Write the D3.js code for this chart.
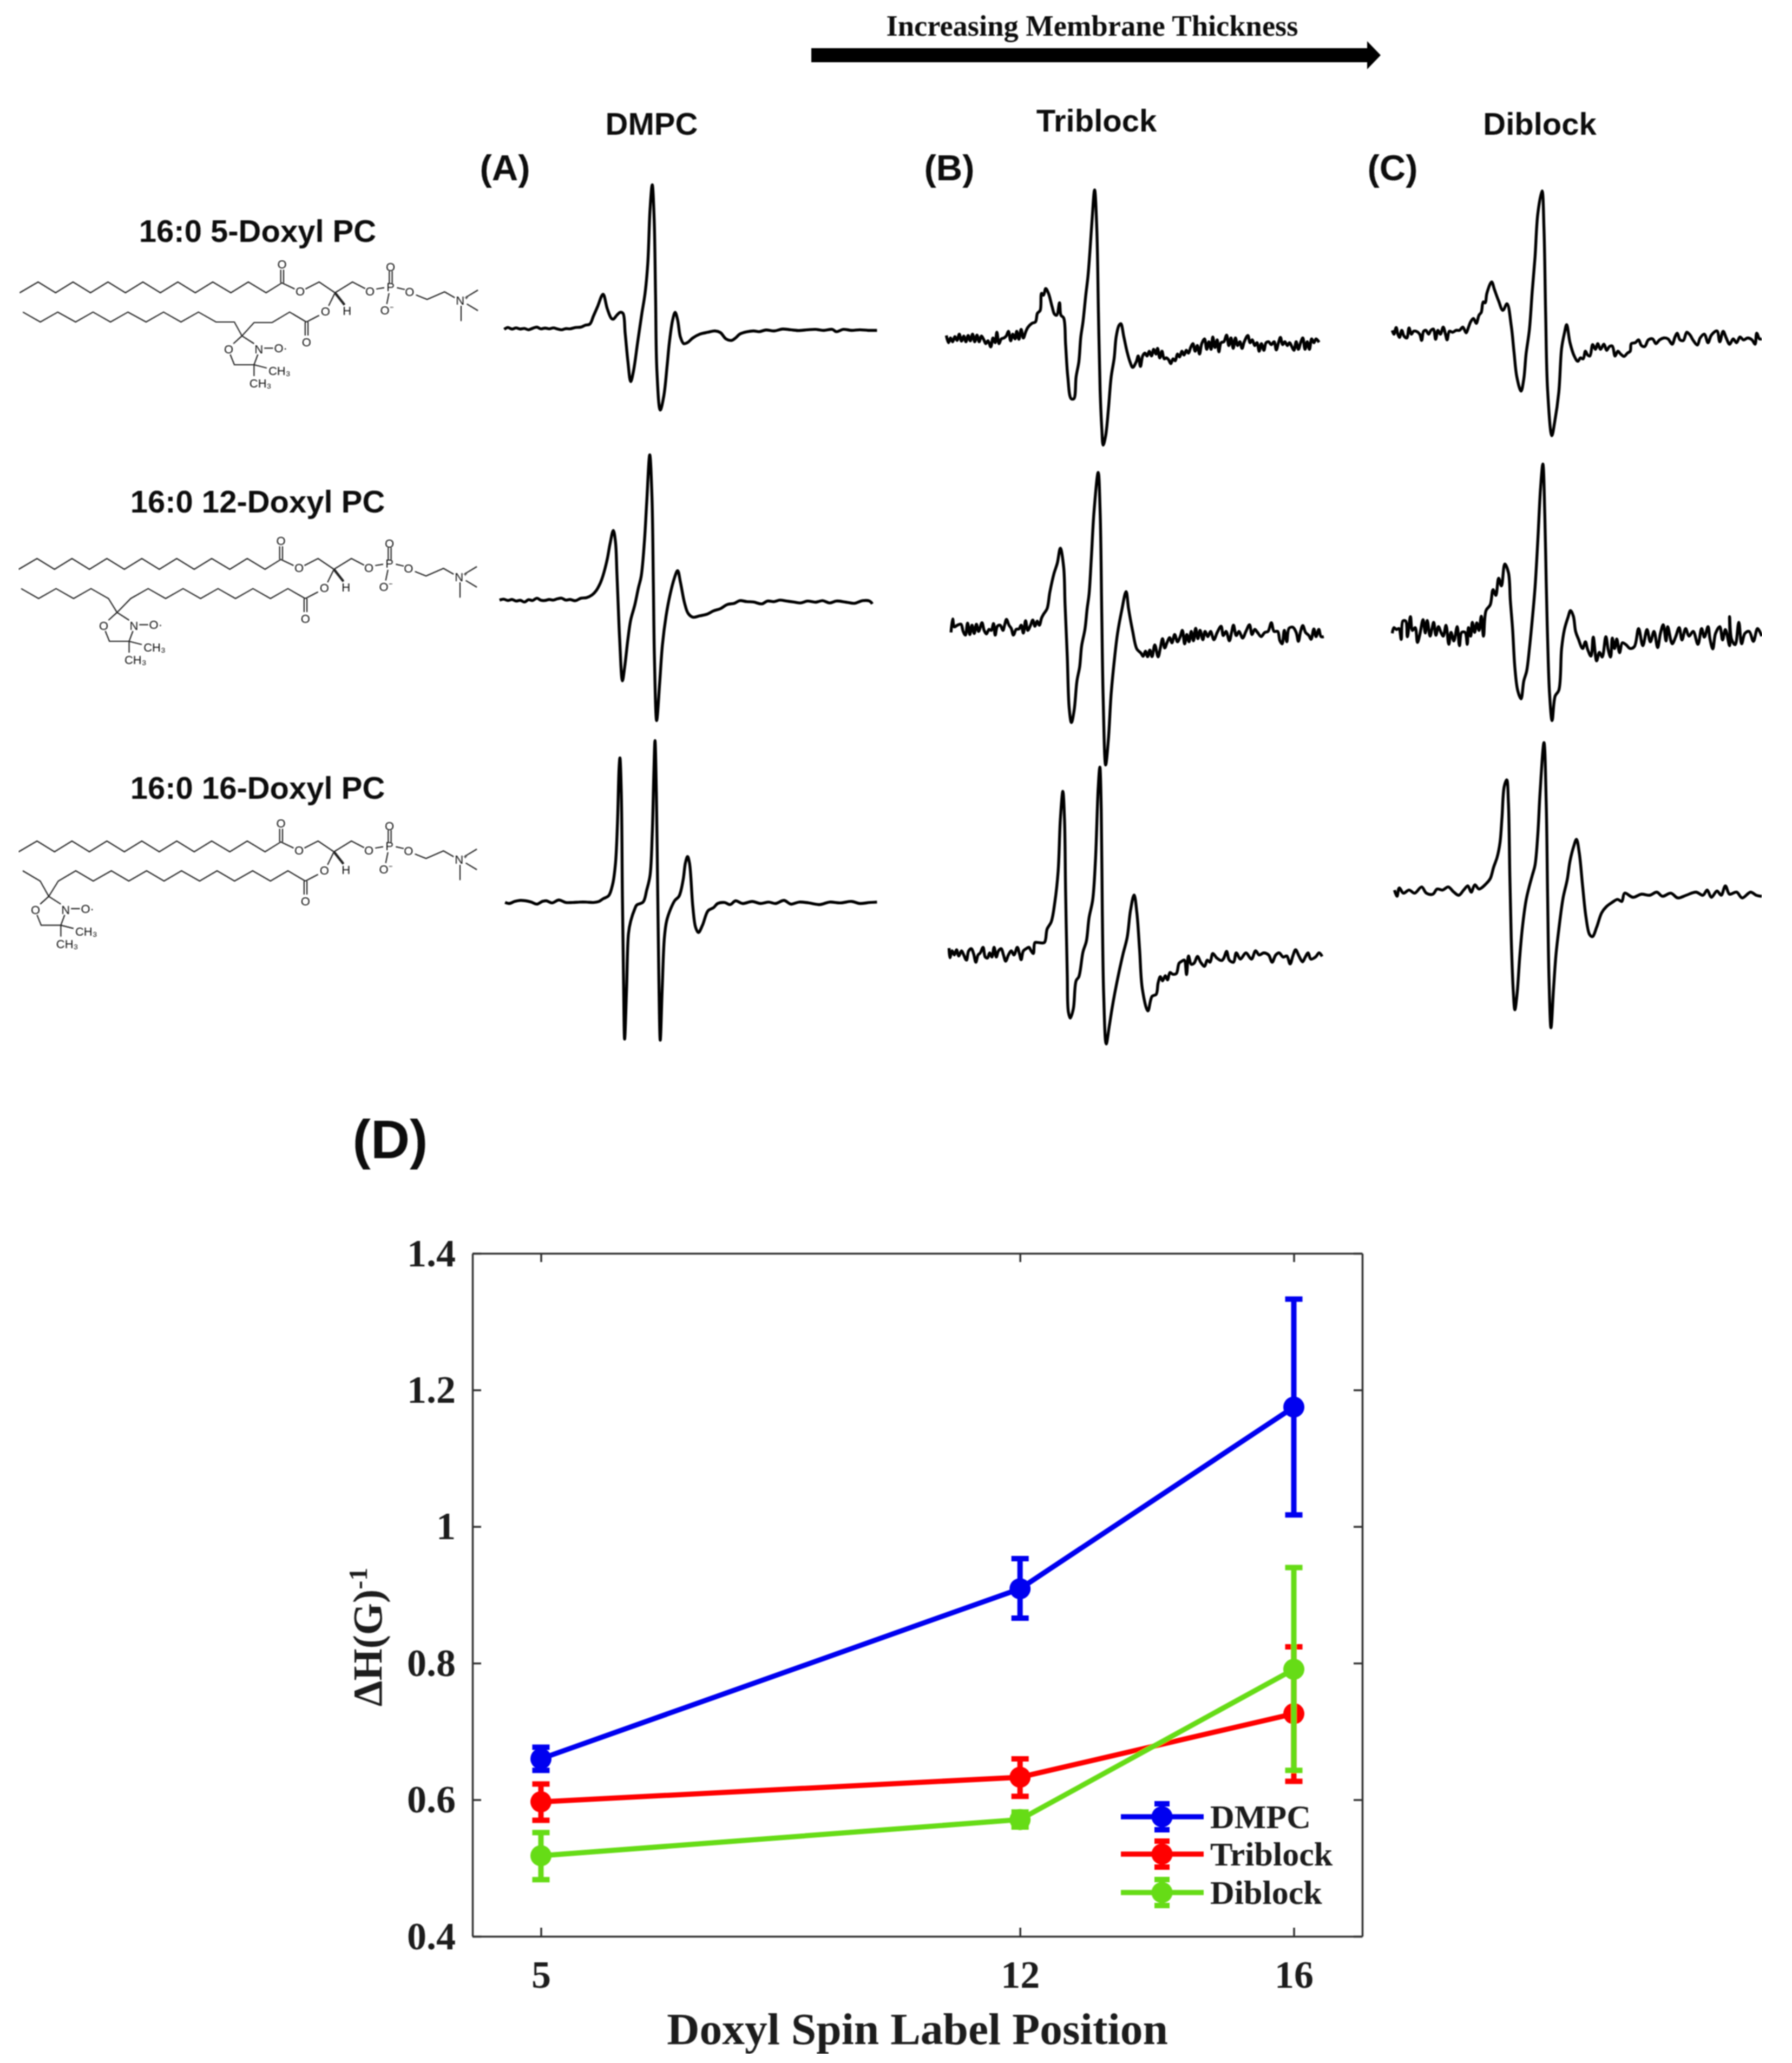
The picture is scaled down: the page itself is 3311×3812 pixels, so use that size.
<!DOCTYPE html>
<html><head><meta charset="utf-8">
<script src="https://cdn.jsdelivr.net/npm/d3@7"></script>
<style>html,body{margin:0;padding:0;background:#fff}svg{display:block}</style>
</head><body><svg id="chart" width="3311" height="3812"></svg>
<script>
// ---------- Panel D data ----------
const positions = [5, 12, 16];
const yTicks = [0.4, 0.6, 0.8, 1, 1.2, 1.4];
const seriesNames = ["DMPC", "Triblock", "Diblock"];
const seriesColors = ["#0000f0", "#ff0000", "#66dc12"];
const dmpcValues = [0.66, 0.909, 1.175];
const dmpcLow = [0.643, 0.866, 1.017];
const dmpcHigh = [0.677, 0.953, 1.333];
const triblockValues = [0.597, 0.633, 0.726];
const triblockLow = [0.57, 0.605, 0.627];
const triblockHigh = [0.623, 0.66, 0.824];
const diblockValues = [0.518, 0.571, 0.791];
const diblockLow = [0.483, 0.56, 0.643];
const diblockHigh = [0.552, 0.582, 0.94];

// ---------- EPR spectra: [field reading, signal reading] ----------
const traceA5 = [[62,880],[75,870],[90,878],[105,872],[120,878],[135,875],[150,882],[165,874],[180,868],[195,877],[210,873],[225,877],[240,872],[255,878],[270,882],[285,876],[300,877],[320,870],[340,868],[355,858],[372,852],[385,810],[400,760],[420,695],[435,770],[450,822],[457,826],[470,805],[482,790],[492,795],[500,900],[510,1050],[520,1155],[530,1100],[545,950],[560,800],[572,690],[582,530],[590,250],[598,118],[605,300],[610,700],[615,1100],[627,1305],[640,1230],[652,1070],[660,950],[672,830],[681,790],[690,830],[700,920],[712,955],[725,950],[745,925],[770,905],[800,895],[825,888],[845,897],[865,930],[885,938],[900,925],[915,905],[940,893],[965,888],[985,892],[1010,883],[1040,888],[1070,878],[1100,882],[1130,886],[1160,882],[1190,880],[1220,885],[1250,880],[1265,892],[1290,880],[1320,885],[1350,882],[1380,885],[1412,885]];
const traceA12 = [[45,795],[60,790],[75,797],[90,792],[105,800],[120,796],[135,805],[150,793],[165,797],[180,785],[195,796],[210,797],[225,792],[240,795],[255,788],[270,785],[285,795],[300,792],[320,798],[340,785],[360,782],[380,768],[395,745],[410,705],[420,665],[435,580],[445,500],[457,428],[465,490],[470,650],[475,830],[480,1000],[490,1220],[498,1150],[510,1000],[520,900],[535,820],[548,730],[558,670],[570,480],[578,280],[589,30],[597,250],[602,700],[606,1100],[614,1430],[625,1230],[635,1030],[648,880],[662,770],[678,680],[690,640],[700,700],[715,810],[728,865],[745,885],[770,878],[795,870],[820,852],[845,840],[870,818],[895,812],[915,798],[940,803],[965,805],[995,815],[1015,800],[1040,803],[1060,795],[1085,800],[1110,805],[1135,810],[1160,800],[1190,806],[1215,798],[1240,810],[1265,800],[1300,806],[1330,812],[1360,798],[1385,800],[1395,815]];
const traceA16 = [[65,830],[80,835],[100,825],[120,820],[140,822],[160,828],[180,838],[200,825],[215,822],[235,832],[260,818],[285,830],[310,830],[335,828],[360,828],[385,830],[405,825],[420,812],[440,798],[455,740],[465,640],[472,450],[478,180],[481,132],[486,300],[490,800],[494,1200],[498,1490],[505,1250],[512,980],[520,920],[535,860],[542,842],[565,828],[578,770],[590,700],[598,500],[604,200],[608,48],[613,300],[618,800],[622,1200],[627,1495],[634,1250],[642,1000],[650,920],[665,860],[680,820],[695,800],[710,720],[718,640],[726,608],[733,640],[745,850],[755,950],[765,975],[780,940],[800,870],[820,855],[835,835],[860,830],[880,840],[900,822],[925,835],[960,825],[990,835],[1020,828],[1045,835],[1075,820],[1100,838],[1130,828],[1165,832],[1205,840],[1240,828],[1280,832],[1320,825],[1350,835],[1385,830],[1412,828]];
const traceB5 = [[95,912],[103,950],[110,925],[118,945],[126,918],[134,938],[142,905],[150,942],[158,915],[166,945],[174,912],[182,940],[190,905],[198,945],[206,910],[214,945],[222,915],[230,932],[238,955],[246,940],[256,972],[264,925],[272,950],[278,895],[286,955],[294,930],[304,925],[312,915],[320,890],[328,940],[336,905],[344,930],[350,890],[358,932],[366,880],[374,925],[382,895],[390,870],[405,848],[418,840],[425,795],[435,780],[440,690],[447,700],[455,665],[465,690],[478,760],[487,800],[495,805],[505,740],[510,805],[520,820],[527,960],[535,1130],[547,1245],[557,1245],[565,1130],[575,1050],[582,920],[590,840],[600,700],[608,600],[615,470],[623,300],[632,145],[640,350],[646,800],[652,1200],[658,1400],[663,1490],[672,1440],[682,1300],[692,1130],[703,1030],[710,920],[720,860],[727,850],[738,920],[750,1000],[760,1050],[770,1080],[783,1050],[790,1020],[798,1075],[806,1020],[814,1005],[822,1020],[830,995],[838,1020],[846,985],[854,1010],[860,980],[868,1030],[876,995],[884,1035],[892,1030],[900,1040],[908,1060],[916,1035],[924,1045],[932,1010],[940,1025],[948,995],[956,1015],[964,990],[972,1005],[980,975],[988,955],[996,995],[1004,965],[1012,1010],[1020,955],[1030,930],[1038,985],[1046,945],[1054,985],[1060,920],[1068,975],[1076,935],[1082,998],[1090,950],[1100,945],[1110,910],[1118,965],[1126,925],[1134,980],[1142,925],[1150,965],[1158,945],[1166,980],[1174,945],[1187,912],[1195,950],[1203,935],[1212,965],[1220,950],[1228,995],[1236,955],[1245,990],[1253,950],[1262,945],[1272,960],[1282,945],[1290,988],[1298,950],[1305,922],[1313,960],[1321,945],[1330,965],[1338,950],[1346,970],[1354,990],[1362,945],[1370,985],[1378,950],[1386,925],[1394,985],[1402,945],[1410,985],[1418,930],[1426,950],[1434,930],[1445,948]];
const traceB12 = [[112,885],[118,820],[124,858],[135,850],[148,845],[156,880],[164,898],[172,840],[180,895],[188,850],[196,890],[204,845],[212,880],[224,838],[232,875],[240,892],[250,870],[258,875],[266,842],[272,898],[280,855],[290,850],[300,875],[306,850],[313,822],[322,850],[330,865],[338,898],[348,870],[358,868],[366,850],[374,888],[382,828],[390,875],[400,850],[408,825],[416,855],[424,830],[432,850],[440,815],[448,795],[460,770],[470,690],[485,600],[497,550],[508,478],[520,570],[525,750],[533,1000],[540,1250],[548,1320],[558,1260],[568,1120],[578,1050],[585,950],[597,870],[605,770],[612,700],[620,530],[630,300],[645,112],[652,300],[658,800],[663,1200],[672,1525],[682,1400],[692,1180],[705,1000],[715,890],[730,780],[746,688],[755,770],[770,880],[785,965],[800,985],[808,1000],[816,975],[824,1002],[832,970],[840,1002],[850,945],[862,1003],[870,960],[878,915],[886,960],[894,935],[904,910],[912,935],[922,895],[932,930],[942,905],[950,875],[958,940],[966,895],[974,930],[982,880],[990,925],[998,865],[1006,915],[1014,875],[1024,920],[1032,880],[1042,905],[1052,880],[1064,920],[1076,885],[1090,855],[1098,900],[1108,880],[1120,925],[1128,885],[1135,850],[1145,900],[1155,880],[1168,912],[1180,880],[1193,848],[1202,895],[1212,870],[1222,885],[1235,905],[1248,885],[1260,880],[1272,838],[1282,880],[1295,880],[1303,925],[1311,940],[1319,875],[1328,930],[1336,865],[1350,860],[1362,885],[1370,928],[1378,880],[1386,852],[1396,885],[1408,900],[1416,918],[1426,868],[1434,905],[1444,870],[1452,905],[1462,905]];
const traceB16 = [[105,972],[108,1018],[116,985],[124,1005],[132,980],[140,1010],[150,985],[158,1005],[168,1030],[176,985],[186,975],[194,1000],[202,1040],[210,1005],[218,995],[228,968],[236,1015],[244,1020],[252,995],[260,1015],[268,968],[276,1015],[284,985],[294,975],[302,1005],[310,1035],[320,1005],[330,985],[340,1005],[352,968],[360,1000],[366,1028],[374,985],[384,975],[394,968],[402,985],[410,998],[416,945],[428,945],[450,945],[460,880],[475,845],[488,750],[500,600],[508,350],[517,215],[523,350],[527,700],[533,1100],[537,1280],[544,1310],[555,1265],[565,1130],[575,1110],[590,990],[602,940],[612,825],[625,740],[635,550],[645,200],[651,98],[656,300],[660,800],[665,1200],[674,1435],[685,1350],[695,1265],[705,1190],[720,1090],[735,1000],[750,920],[762,790],[775,715],[785,800],[795,980],[805,1170],[825,1275],[840,1205],[855,1195],[862,1140],[870,1110],[878,1130],[888,1105],[896,1125],[905,1090],[915,1098],[928,1095],[938,1045],[948,1035],[957,1030],[965,1100],[972,1010],[982,1050],[992,1045],[1005,1012],[1016,1040],[1030,1060],[1040,1030],[1050,1040],[1060,998],[1075,1020],[1092,1032],[1100,1020],[1110,988],[1120,1030],[1135,1040],[1145,995],[1160,1025],[1180,995],[1200,1025],[1215,985],[1228,1005],[1245,995],[1262,1005],[1275,1040],[1288,1005],[1300,995],[1315,1015],[1328,1010],[1340,1048],[1350,1010],[1360,980],[1372,1010],[1385,1038],[1395,1015],[1405,995],[1415,1025],[1432,1015],[1445,995],[1456,1012]];
const traceC5 = [[140,885],[146,905],[154,870],[160,905],[166,922],[174,885],[182,915],[192,925],[200,872],[208,905],[216,890],[226,890],[238,905],[245,938],[252,890],[260,885],[270,905],[278,885],[287,878],[295,932],[303,885],[312,905],[322,868],[330,905],[336,935],[344,890],[356,895],[368,885],[380,885],[392,868],[404,898],[412,870],[420,840],[430,822],[440,848],[450,805],[458,790],[465,735],[472,740],[478,690],[495,630],[505,670],[520,730],[535,780],[550,745],[565,860],[575,1000],[585,1130],[600,1205],[610,1140],[618,1010],[630,880],[640,680],[650,500],[660,270],[675,150],[682,350],[688,800],[695,1200],[710,1440],[720,1370],[735,1210],[745,980],[755,900],[763,855],[775,950],[790,1020],[803,1048],[812,1030],[822,1035],[830,995],[838,1015],[846,1020],[856,960],[866,985],[874,955],[884,985],[896,958],[906,990],[916,970],[926,968],[936,1020],[946,995],[956,1010],[968,1022],[980,1005],[990,995],[994,955],[1008,950],[1020,935],[1030,965],[1042,970],[1055,935],[1070,930],[1082,955],[1095,935],[1110,925],[1125,930],[1140,958],[1150,920],[1158,900],[1168,935],[1180,938],[1192,895],[1204,910],[1214,935],[1230,962],[1240,925],[1255,905],[1268,950],[1280,910],[1300,888],[1310,945],[1322,890],[1333,925],[1345,958],[1358,930],[1370,950],[1382,920],[1395,935],[1410,925],[1425,935],[1436,958],[1442,900],[1452,930],[1460,930]];
const traceC12 = [[140,970],[146,940],[155,950],[164,945],[172,1002],[178,905],[188,905],[194,988],[205,882],[212,955],[222,940],[230,1018],[238,980],[250,898],[258,968],[265,902],[275,985],[282,945],[288,912],[296,980],[305,935],[314,965],[322,985],[332,928],[342,1028],[350,965],[360,1010],[372,935],[380,1035],[388,965],[400,965],[408,1028],[412,940],[420,985],[426,912],[434,965],[442,915],[450,955],[458,880],[466,985],[475,850],[490,820],[500,740],[510,770],[520,680],[530,720],[542,605],[555,650],[562,800],[570,950],[578,1150],[588,1270],[600,1315],[610,1220],[620,1170],[630,1050],[640,900],[650,730],[660,480],[670,200],[678,78],[685,350],[690,700],[695,1000],[702,1290],[711,1430],[722,1300],[735,1270],[745,1050],[755,950],[768,885],[777,850],[787,880],[795,960],[805,1000],[820,1050],[830,1015],[838,1055],[850,1090],[858,990],[870,1115],[880,1070],[890,1095],[903,988],[912,1060],[920,1095],[926,995],[934,1050],[942,1000],[952,1072],[962,1020],[975,1030],[990,1050],[1005,1040],[1020,945],[1035,1035],[1050,950],[1062,1015],[1075,960],[1088,1045],[1098,970],[1108,925],[1118,1010],[1124,935],[1140,1025],[1152,990],[1165,940],[1175,1005],[1188,945],[1200,985],[1215,960],[1232,1028],[1245,945],[1255,990],[1268,935],[1275,1000],[1285,1052],[1295,970],[1310,935],[1320,1005],[1330,950],[1345,1035],[1345,882],[1352,1000],[1365,1030],[1378,912],[1388,1025],[1400,970],[1415,960],[1430,1012],[1445,945],[1460,985]];
const traceC16 = [[148,770],[157,800],[165,760],[180,785],[200,770],[220,785],[245,755],[262,785],[285,790],[300,765],[320,770],[340,755],[360,780],[378,795],[395,770],[410,750],[422,780],[435,745],[450,765],[475,740],[490,715],[502,660],[515,610],[525,540],[532,420],[540,270],[549,238],[555,350],[560,700],[565,1000],[572,1250],[578,1348],[586,1270],[595,1100],[605,950],[618,820],[628,760],[640,700],[650,650],[660,500],[668,300],[682,58],[690,350],[695,800],[700,1200],[707,1435],[716,1250],[725,1080],[735,960],[750,810],[765,720],[775,630],[788,560],[798,525],[808,590],[820,750],[832,900],[845,985],[855,995],[870,950],[888,880],[905,850],[925,830],[945,815],[960,825],[970,785],[1000,805],[1030,790],[1060,795],[1085,780],[1105,800],[1135,785],[1160,808],[1190,795],[1225,780],[1250,795],[1265,770],[1280,805],[1300,775],[1315,795],[1330,750],[1345,790],[1370,780],[1390,808],[1420,780],[1440,795],[1460,800]];

// ---------- Lipid skeletons ----------
const headChain = [[62,483],[120,423],[175,483],[230,423],[285,483],[340,423],[395,483],[450,423],[505,483],[560,423],[615,483],[670,423],[727,483],[782,423],[838,483],[888,428],[928,462]];
const headBonds = [
  [[884,428],[884,355]],[[893,428],[893,355]],
  [[962,462],[1005,423],[1055,483],[1110,423],[1150,460]],
  [[1185,462],[1210,455]],[[1226,430],[1226,362]],[[1235,430],[1235,362]],
  [[1250,455],[1275,465]],[[1310,495],[1345,520],[1400,478],[1432,510]],
  [[1225,485],[1218,545]],[[1470,505],[1505,468]],[[1470,545],[1505,582]],[[1452,555],[1452,640]],
  [[1055,483],[1035,555]],
  [[1005,608],[965,645]],[[961,645],[961,720]],[[970,645],[970,720]]
];
const wedgeBond = [[1055,483],[1085,550]];
const headLabels = [["O",888,325],["O",945,475],["O",1165,475],["P",1230,450],["O",1230,338],["O",1290,478],["O⁻",1218,580],["N⁺",1455,525],["O",1025,585],["H",1093,583],["O",965,755]];
const tail5 = [[72,590],[127,645],[182,590],[238,645],[293,590],[348,645],[403,590],[460,645],[515,590],[570,645],[625,590],[680,645],[738,645],[762,722],[800,648],[857,648],[912,590],[965,645]];
const tail12 = [[70,590],[125,645],[180,590],[235,645],[290,590],[345,645],[372,722],[415,645],[470,590],[525,645],[580,590],[635,645],[690,590],[745,645],[800,590],[855,645],[910,590],[965,645]];
const tail16 = [[75,588],[130,645],[157,730],[187,645],[242,588],[297,645],[354,588],[409,645],[465,588],[520,645],[575,588],[632,645],[687,588],[742,645],[799,588],[855,645],[910,588],[965,645]];
const ringBonds = [[[0,0],[-27,43]],[[-37,103],[-24,160],[38,160],[50,103]],[[0,0],[38,43]],[[70,68],[98,68]],[[38,160],[78,178]],[[38,160],[38,223]]];
const ringLabels = [["O",-42,73],["N",53,73],["O·",122,68],["CH₃",118,193],["CH₃",58,263]];
const lipidTitles = ["16:0 5-Doxyl PC", "16:0 12-Doxyl PC", "16:0 16-Doxyl PC"];
const columnTitles = ["DMPC", "Triblock", "Diblock"];
const panelLetters = ["(A)", "(B)", "(C)"];
const topLabel = "Increasing Membrane Thickness";
const xLabel = "Doxyl Spin Label Position";

// ---------- Layout ----------
const svg = d3.select("#chart");
const defs = svg.append("defs");
defs.append("filter").attr("id","soft").attr("x",0).attr("y",0).attr("width",1).attr("height",1)
  .attr("filterUnits","objectBoundingBox")
  .append("feGaussianBlur").attr("stdDeviation",1.3);
svg.append("rect").attr("width",3311).attr("height",3812).attr("fill","#fff");
const root = svg.append("g").attr("filter","url(#soft)");
const sans = "'Liberation Sans',Arial,sans-serif", serif = "'Liberation Serif','Times New Roman',serif";

// top arrow + titles
root.append("text").attr("x",2018).attr("y",66).attr("text-anchor","middle").attr("font-family",serif).attr("font-weight",700).attr("font-size",54.5).attr("fill","#111").text(topLabel);
root.append("path").attr("d",d3.line()([[1499,89],[2526,89],[2526,76],[2551,102],[2526,128],[2526,115],[1499,115]])+"Z").attr("fill","#000");
const colX = [1204, 2026, 2845], colY = [249, 243, 249], letterX = [933, 1754, 2573];
columnTitles.forEach((t,i)=>{
  root.append("text").attr("x",colX[i]).attr("y",colY[i]).attr("text-anchor","middle").attr("font-family",sans).attr("font-weight",700).attr("font-size",58).attr("fill","#111").text(t);
  root.append("text").attr("x",letterX[i]).attr("y",333).attr("text-anchor","middle").attr("font-family",sans).attr("font-weight",700).attr("font-size",67).attr("fill","#111").text(panelLetters[i]);
});
root.append("text").attr("x",721).attr("y",2140).attr("text-anchor","middle").attr("font-family",sans).attr("font-weight",700).attr("font-size",100).attr("fill","#111").text("(D)");

// spectra
const panels = [
  {t:traceA5, x:900,y:300,w:800,h:550},{t:traceB5, x:1700,y:300,w:800,h:550},{t:traceC5, x:2500,y:300,w:811,h:550},
  {t:traceA12,x:900,y:830,w:800,h:550},{t:traceB12,x:1700,y:830,w:800,h:600},{t:traceC12,x:2500,y:830,w:811,h:550},
  {t:traceA16,x:900,y:1350,w:800,h:600},{t:traceB16,x:1700,y:1380,w:800,h:600},{t:traceC16,x:2500,y:1350,w:811,h:600}
];
panels.forEach(p=>{
  const fx = d3.scaleLinear().domain([0,1568]).range([p.x,p.x+p.w]);
  const fy = d3.scaleLinear().domain([0,1568]).range([p.y,p.y+p.h]);
  root.append("path").datum(p.t).attr("fill","none").attr("stroke","#000").attr("stroke-width",5.4).attr("stroke-linejoin","round")
    .attr("d",d3.line().x(d=>fx(d[0])).y(d=>fy(d[1])).curve(d3.curveCatmullRom.alpha(0.5)));
});

// lipids
const mx = d3.scaleLinear().domain([0,1568]).range([0,920]);
const my = d3.scaleLinear().domain([0,1200]).range([0,400]);
const lipids = [
  {title:lipidTitles[0],ox:0,oy:380,tail:tail5,c:[762,722],ty:447},
  {title:lipidTitles[1],ox:-2,oy:891,tail:tail12,c:[372,722],ty:947},
  {title:lipidTitles[2],ox:-2,oy:1413,tail:tail16,c:[157,730],ty:1476}
];
lipids.forEach(L=>{
  root.append("text").attr("x",476).attr("y",L.ty).attr("text-anchor","middle").attr("font-family",sans).attr("font-weight",700).attr("font-size",58).attr("fill","#111").text(L.title);
  const g = root.append("g").attr("transform",`translate(${L.ox},${L.oy})`);
  const line = d3.line().x(d=>mx(d[0])).y(d=>my(d[1]));
  const draw = pts => g.append("path").datum(pts).attr("fill","none").attr("stroke","#222").attr("stroke-width",2.2).attr("d",line);
  draw(headChain); headBonds.forEach(draw); draw(L.tail);
  draw(wedgeBond).attr("stroke-width",4.5);
  ringBonds.forEach(b=>draw(b.map(d=>[d[0]+L.c[0],d[1]+L.c[1]])));
  const lab = (s,x,y)=>g.append("text").attr("x",mx(x)).attr("y",my(y)+8).attr("text-anchor","middle").attr("font-family",sans).attr("font-size",22).attr("fill","#111").text(s);
  headLabels.forEach(d=>lab(d[0],d[1],d[2]));
  ringLabels.forEach(d=>lab(d[0],d[1]+L.c[0],d[2]+L.c[1]));
});

// Panel D
const plotLeft = 873, plotRight = 2517, plotTop = 2316, plotBottom = 3578;
const x = d3.scaleLinear().domain([4,17]).range([plotLeft,plotRight]);
const y = d3.scaleLinear().domain([0.4,1.4]).range([plotBottom,plotTop]);
const axisInk = "#333";
const axes = root.append("g");
const styleAxis = g => { g.selectAll("path,line").attr("stroke",axisInk).attr("stroke-width",3.5);
  g.selectAll("text").attr("font-family",serif).attr("font-weight",700).attr("font-size",72).attr("fill","#1c1c1c"); };
axes.append("g").attr("transform",`translate(0,${plotBottom})`).call(d3.axisBottom(x).tickValues(positions).tickFormat(d3.format("d")).tickSize(-16).tickSizeOuter(0).tickPadding(44)).call(styleAxis);
axes.append("g").attr("transform",`translate(0,${plotTop})`).call(d3.axisTop(x).tickValues(positions).tickFormat("").tickSize(-16).tickSizeOuter(0)).call(styleAxis);
axes.append("g").attr("transform",`translate(${plotLeft},0)`).call(d3.axisLeft(y).tickValues(yTicks).tickFormat(d=>String(d)).tickSize(-16).tickSizeOuter(0).tickPadding(31)).call(styleAxis);
axes.append("g").attr("transform",`translate(${plotRight},0)`).call(d3.axisRight(y).tickValues(yTicks).tickFormat("").tickSize(-16).tickSizeOuter(0)).call(styleAxis);

const allSeries = [
  {name:seriesNames[0],color:seriesColors[0],v:dmpcValues,lo:dmpcLow,hi:dmpcHigh},
  {name:seriesNames[1],color:seriesColors[1],v:triblockValues,lo:triblockLow,hi:triblockHigh},
  {name:seriesNames[2],color:seriesColors[2],v:diblockValues,lo:diblockLow,hi:diblockHigh}
];
const capHalf = 16, markerR = 19.5;
allSeries.forEach(s=>{
  const g = root.append("g");
  positions.forEach((p,i)=>{
    const px = x(p);
    g.append("line").attr("x1",px).attr("x2",px).attr("y1",y(s.lo[i])).attr("y2",y(s.hi[i])).attr("stroke",s.color).attr("stroke-width",10);
    [s.lo[i],s.hi[i]].forEach(e=>g.append("line").attr("x1",px-capHalf).attr("x2",px+capHalf).attr("y1",y(e)).attr("y2",y(e)).attr("stroke",s.color).attr("stroke-width",10));
  });
  g.append("path").datum(s.v).attr("fill","none").attr("stroke",s.color).attr("stroke-width",9.5)
    .attr("d",d3.line().x((d,i)=>x(positions[i])).y(d=>y(d)));
  g.selectAll("circle").data(s.v).join("circle").attr("cx",(d,i)=>x(positions[i])).attr("cy",d=>y(d)).attr("r",markerR).attr("fill",s.color);
});

root.append("text").attr("x",1695).attr("y",3777).attr("text-anchor","middle").attr("font-family",serif).attr("font-weight",700).attr("font-size",83.5).attr("fill","#1c1c1c").text(xLabel);
const yl = root.append("text").attr("transform","translate(705,3025) rotate(-90)").attr("text-anchor","middle").attr("font-family",serif).attr("font-weight",700).attr("font-size",76).attr("fill","#1c1c1c");
yl.append("tspan").text("ΔH(G)");
yl.append("tspan").attr("dy",-27).attr("font-size",48).text("-1");

// legend
const legendY = [3357, 3426, 3497];
allSeries.forEach((s,i)=>{
  const g = root.append("g");
  const yy = legendY[i];
  g.append("line").attr("x1",2071).attr("x2",2224).attr("y1",yy).attr("y2",yy).attr("stroke",s.color).attr("stroke-width",9.5);
  g.append("line").attr("x1",2147).attr("x2",2147).attr("y1",yy-24).attr("y2",yy+24).attr("stroke",s.color).attr("stroke-width",10);
  [yy-24,yy+24].forEach(e=>g.append("line").attr("x1",2147-14).attr("x2",2147+14).attr("y1",e).attr("y2",e).attr("stroke",s.color).attr("stroke-width",10));
  g.append("circle").attr("cx",2147).attr("cy",yy).attr("r",markerR).attr("fill",s.color);
  g.append("text").attr("x",2236).attr("y",yy+21).attr("font-family",serif).attr("font-weight",700).attr("font-size",62).attr("fill","#1c1c1c").text(s.name);
});
</script></body></html>
